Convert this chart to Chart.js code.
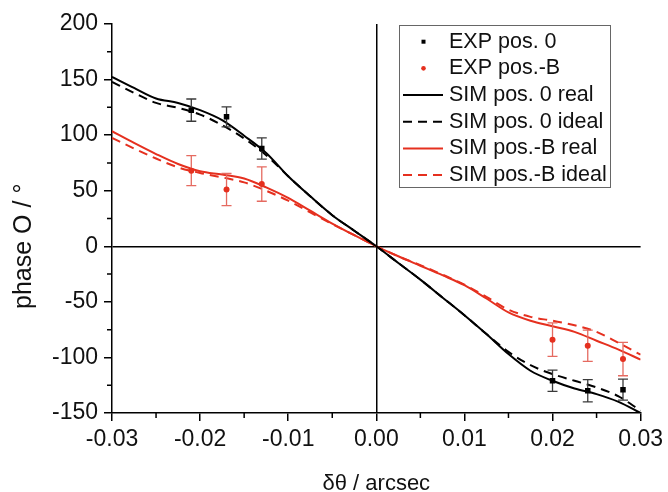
<!DOCTYPE html>
<html><head><meta charset="utf-8">
<script src="https://cdn.jsdelivr.net/npm/chart.js@4/dist/chart.umd.min.js"></script>
<style>html,body{margin:0;padding:0;background:#fff;}canvas{display:block;}</style>
</head><body>
<canvas id="c" width="668" height="492"></canvas>
<script>
// ---- data ----
const simX = [-0.03,-0.0275,-0.025,-0.0225,-0.02,-0.0175,-0.015,-0.0125,-0.01,-0.0075,-0.005,-0.0025,0,
               0.0025,0.005,0.0075,0.01,0.0125,0.015,0.0175,0.02,0.0225,0.025,0.0275,0.03];
const sim0Real  = [152.5,142.5,133,129,122.5,113.5,99.5,84,63,45,28,14,0,-15,-30,-46,-62,-79,-97,-112,-121,-128,-133,-140,-150];
const sim0Ideal = [148,138,129,124.5,118.5,109,97,82,63,45,28,14,0,-15,-30,-46,-62,-79,-95,-107,-115,-121,-127,-135,-148];
const simBReal  = [103.5,93,83,74,67.5,64.5,61,53,43.5,32,20.5,10,0,-9,-17.5,-26,-35,-47,-59.5,-67,-72,-77,-85,-93,-102];
const simBIdeal = [97.5,88,79,71,66,62,57.5,50,41,30.5,20,10,0,-9,-17,-25.5,-34.5,-45.5,-57,-63.5,-67,-71,-77,-87,-97.5];

const expX    = [-0.021,-0.017,-0.013,0.020,0.024,0.028];
const exp0Y   = [122.5,116.5,88,-121,-130,-129];
const exp0Err = [10,9,9.5,9.5,10,9.5];
const expBY   = [68,51,56,-84,-89.5,-101.5];
const expBErr = [13.5,14.5,15.5,15,14,15];

const labels = ['EXP pos. 0','EXP pos.-B','SIM pos. 0 real','SIM pos. 0 ideal','SIM pos.-B real','SIM pos.-B ideal'];
const xMinor = [-0.025,-0.015,-0.005,0.005,0.015,0.025];
const yMinor = [-125,-75,-25,25,75,125,175];

const RED = '#e5301f';
const FONT = "'Liberation Sans', Arial, Helvetica, sans-serif";
const pts = (xs, ys) => xs.map((x, i) => ({x, y: ys[i]}));

const extras = {
  id: 'extras',
  beforeDatasetDraw(chart, args) {
    if (args.index !== 1) return;
    const {ctx, scales: {x, y}} = chart;
    ctx.save();
    const bars = (ys, errs, color) => {
      ctx.strokeStyle = color; ctx.lineWidth = 1.3;
      expX.forEach((xv, i) => {
        const px = x.getPixelForValue(xv);
        const t = y.getPixelForValue(ys[i] + errs[i]);
        const b = y.getPixelForValue(ys[i] - errs[i]);
        ctx.beginPath();
        ctx.moveTo(px, t); ctx.lineTo(px, b);
        ctx.moveTo(px - 5, t); ctx.lineTo(px + 5, t);
        ctx.moveTo(px - 5, b); ctx.lineTo(px + 5, b);
        ctx.stroke();
      });
    };
    bars(expBY, expBErr, '#e56a60');
    bars(exp0Y, exp0Err, '#3a3a3a');
    ctx.restore();
  },
  afterDraw(chart) {
    const {ctx, scales: {x, y}, chartArea: ca} = chart;
    ctx.save();
    // minor ticks
    ctx.strokeStyle = '#000'; ctx.lineWidth = 1.5;
    ctx.beginPath();
    xMinor.forEach(v => { const p = x.getPixelForValue(v); ctx.moveTo(p, ca.bottom); ctx.lineTo(p, ca.bottom + 5); });
    yMinor.forEach(v => { const p = y.getPixelForValue(v); ctx.moveTo(ca.left, p); ctx.lineTo(ca.left - 5, p); });
    ctx.stroke();
    // legend
    const L = 399.5, T = 25.5, W = 211, H = 162;
    ctx.fillStyle = '#fff'; ctx.fillRect(L, T, W, H);
    ctx.strokeStyle = '#666'; ctx.lineWidth = 1; ctx.strokeRect(L, T, W, H);
    ctx.font = '21.5px ' + FONT; ctx.textBaseline = 'middle'; ctx.textAlign = 'left';
    chart.data.datasets.forEach((ds, i) => {
      const cy = 41.7 + i * 26.67;
      if (ds.showLine) {
        ctx.strokeStyle = ds.borderColor; ctx.lineWidth = 2;
        ctx.setLineDash(ds.borderDash || []);
        ctx.beginPath(); ctx.moveTo(403, cy); ctx.lineTo(443, cy); ctx.stroke();
        ctx.setLineDash([]);
      } else {
        ctx.fillStyle = ds.backgroundColor;
        if (ds.pointStyle === 'rect') ctx.fillRect(421.5, cy - 2, 4, 4);
        else { ctx.beginPath(); ctx.arc(423.5, cy, 2.3, 0, Math.PI * 2); ctx.fill(); }
      }
      ctx.fillStyle = '#111';
      ctx.fillText(ds.label, 449, cy);
    });
    ctx.restore();
  }
};

const lineDs = (label, ys, color, dash) => ({
  label, data: pts(simX, ys), showLine: true, borderColor: color, backgroundColor: color,
  borderWidth: 2, borderDash: dash, pointRadius: 0, cubicInterpolationMode: 'monotone'
});

new Chart(document.getElementById('c'), {
  type: 'scatter',
  data: {
    datasets: [
      {label: labels[0], data: pts(expX, exp0Y), pointStyle: 'rect', pointRadius: 3.9, backgroundColor: '#000', borderColor: '#000', borderWidth: 0},
      {label: labels[1], data: pts(expX, expBY), pointStyle: 'circle', pointRadius: 3, backgroundColor: RED, borderColor: RED, borderWidth: 0},
      lineDs(labels[2], sim0Real, '#000', []),
      lineDs(labels[3], sim0Ideal, '#000', [9, 6]),
      lineDs(labels[4], simBReal, RED, []),
      lineDs(labels[5], simBIdeal, RED, [9, 6])
    ]
  },
  options: {
    responsive: false, animation: false, devicePixelRatio: 1,
    layout: {padding: {top: 24, right: 25, left: 0, bottom: 0}},
    plugins: {legend: {display: false}, tooltip: {enabled: false}},
    scales: {
      x: {
        type: 'linear', min: -0.03, max: 0.03,
        ticks: {stepSize: 0.01, callback: v => v.toFixed(2), font: {family: FONT, size: 23}, color: '#111', padding: 5, maxRotation: 0, autoSkip: false},
        grid: {color: c => (c.tick && c.tick.value === 0) ? '#000' : 'rgba(0,0,0,0)', lineWidth: 1.5, tickColor: '#000', tickLength: 8, tickWidth: 1.5},
        border: {color: '#000', width: 1.5},
        title: {display: true, text: 'δθ / arcsec', font: {family: FONT, size: 22, lineHeight: 0.7}, padding: 0, color: '#111'},
        afterFit(s) { s.height = 79; }
      },
      y: {
        type: 'linear', min: -150, max: 200,
        ticks: {stepSize: 50, font: {family: FONT, size: 23}, color: '#111', padding: 6},
        grid: {color: c => (c.tick && c.tick.value === 0) ? '#000' : 'rgba(0,0,0,0)', lineWidth: 1.5, tickColor: '#000', tickLength: 8, tickWidth: 1.5},
        border: {color: '#000', width: 1.5},
        title: {display: true, text: 'phase O / °        ', font: {family: FONT, size: 25}, padding: {top: 9, bottom: 0}, color: '#111'},
        afterFit(s) { s.width = 112; }
      }
    }
  },
  plugins: [extras]
});
</script>
</body></html>
